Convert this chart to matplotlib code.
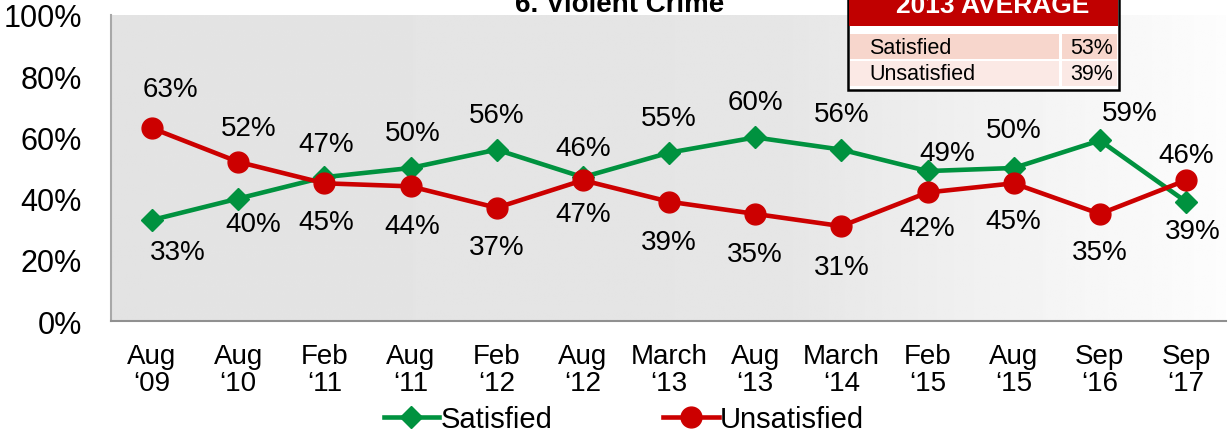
import numpy as np
import matplotlib.pyplot as plt
from matplotlib.patches import Rectangle
from matplotlib.lines import Line2D

# dados
periodos = ["Aug\n\u201809", "Aug\n\u201810", "Feb\n\u201811", "Aug\n\u201811", "Feb\n\u201812",
            "Aug\n\u201812", "March\n\u201813", "Aug\n\u201813", "March\n\u201814", "Feb\n\u201815",
            "Aug\n\u201815", "Sep\n\u201816", "Sep\n\u201817"]
satisfeito = [33, 40, 47, 50, 56, 47, 55, 60, 56, 49, 50, 59, 39]
insatisfeito = [63, 52, 45, 44, 37, 46, 39, 35, 31, 42, 45, 35, 46]
media_2013 = [("Satisfied", "53%"), ("Unsatisfied", "39%")]

# deslocamento dos rótulos (pixels, y para baixo)
desl_sat = [(26, 32), (15, 25), (2, -33), (2, -35), (0, -35), (0, 37), (0, -35),
            (0, -35), (0, -36), (20, -18), (0, -38), (30, -27), (7, 29)]
desl_ins = [(18, -39), (10, -34), (2, 39), (2, 40), (0, 39), (0, -32), (0, 40),
            (0, 40), (0, 41), (0, 36), (0, 38), (0, 38), (0, -25)]

VERDE = "#00923f"
VERMELHO = "#cc0000"
W, H = 1229, 439

fig = plt.figure(figsize=(W / 100, H / 100), dpi=100)
fig.patch.set_facecolor("white")


def fx(px):
    return px / W


def fy(py):
    return 1 - py / H


ax = fig.add_axes([fx(111), fy(322), fx(1226) - fx(111), fy(16) - fy(322)])
x = np.arange(len(periodos))
ax.set_xlim(-0.476, 12.464)
ax.set_ylim(0, 100)

# fundo em gradiente
g = np.interp(np.linspace(0, 1, 400), [0, 0.6, 0.85, 1], [0.89, 0.90, 0.96, 0.99])
grad = np.tile(g, (10, 1))
ax.imshow(grad, cmap="gray", vmin=0, vmax=1, aspect="auto",
          extent=[-0.476, 12.464, 0, 100], zorder=0)

ax.plot(x, satisfeito, color=VERDE, lw=3.3, marker="D", ms=11, zorder=3)
ax.plot(x, insatisfeito, color=VERMELHO, lw=3.3, marker="o", ms=15, zorder=4)

fonte = "Liberation Sans"
for i in range(len(x)):
    dx, dy = desl_sat[i]
    ax.annotate(f"{satisfeito[i]}%", (x[i], satisfeito[i]), xytext=(dx, -dy),
                textcoords="offset pixels", ha="center", va="center",
                fontsize=20, family=fonte, zorder=5)
    dx, dy = desl_ins[i]
    ax.annotate(f"{insatisfeito[i]}%", (x[i], insatisfeito[i]), xytext=(dx, -dy),
                textcoords="offset pixels", ha="center", va="center",
                fontsize=20, family=fonte, zorder=5)

ax.set_xticks(x)
ax.set_xticklabels(periodos, fontsize=20, family=fonte, linespacing=1.05)
ax.set_yticks(range(0, 101, 20))
ax.set_yticklabels([f"{v}%" for v in range(0, 101, 20)], fontsize=22, family=fonte)
ax.tick_params(axis="both", length=0)
ax.tick_params(axis="x", pad=16)
ax.tick_params(axis="y", pad=21)
for s in ["top", "right"]:
    ax.spines[s].set_visible(False)
ax.spines["left"].set_color("#a8a8a8")
ax.spines["bottom"].set_color("#909090")
ax.spines["left"].set_linewidth(1.5)
ax.spines["bottom"].set_linewidth(1.5)

# título (cortado no topo, como no original)
fig.text(fx(620), fy(12), "6. Violent Crime", ha="center", va="baseline",
         fontsize=20, fontweight="bold", family=fonte)

# tabela da média de 2013
fig.add_artist(Rectangle((fx(848), fy(91)), fx(1119) - fx(848), fy(-5) - fy(91),
                         transform=fig.transFigure, facecolor="white",
                         edgecolor="black", lw=1.8, zorder=6))
fig.add_artist(Rectangle((fx(849), fy(27)), fx(1118) - fx(849), fy(-5) - fy(27),
                         transform=fig.transFigure, facecolor="#c00000", lw=0, zorder=7))
fig.text(fx(993), fy(13), "2013 AVERAGE", ha="center", va="baseline", color="white",
         fontsize=19, fontweight="bold", family=fonte, zorder=8)
cores_linha = ["#f7d6cc", "#fbe9e5"]
topos = [35, 62]
for (rot, val), cor, top in zip(media_2013, cores_linha, topos):
    fig.add_artist(Rectangle((fx(850), fy(top + 25)), fx(1059) - fx(850), fy(top) - fy(top + 25),
                             transform=fig.transFigure, facecolor=cor, lw=0, zorder=7))
    fig.add_artist(Rectangle((fx(1062), fy(top + 25)), fx(1117) - fx(1062), fy(top) - fy(top + 25),
                             transform=fig.transFigure, facecolor=cor, lw=0, zorder=7))
    fig.text(fx(869), fy(top + 13), rot, ha="left", va="center", fontsize=15.5,
             family=fonte, zorder=8)
    fig.text(fx(1113), fy(top + 13), val, ha="right", va="center", fontsize=15.5,
             family=fonte, zorder=8)

# legenda
h1 = Line2D([], [], color=VERDE, lw=3.3, marker="D", ms=11)
h2 = Line2D([], [], color=VERMELHO, lw=3.3, marker="o", ms=15)
fig.legend([h1, h2], ["Satisfied", "Unsatisfied"], loc="center",
           bbox_to_anchor=(fx(624), fy(420)), ncol=2, frameon=False,
           prop={"family": fonte, "size": 21}, handlelength=1.9,
           handletextpad=0.05, columnspacing=3.8, borderpad=0)

fig.savefig("out.png", dpi=100)
